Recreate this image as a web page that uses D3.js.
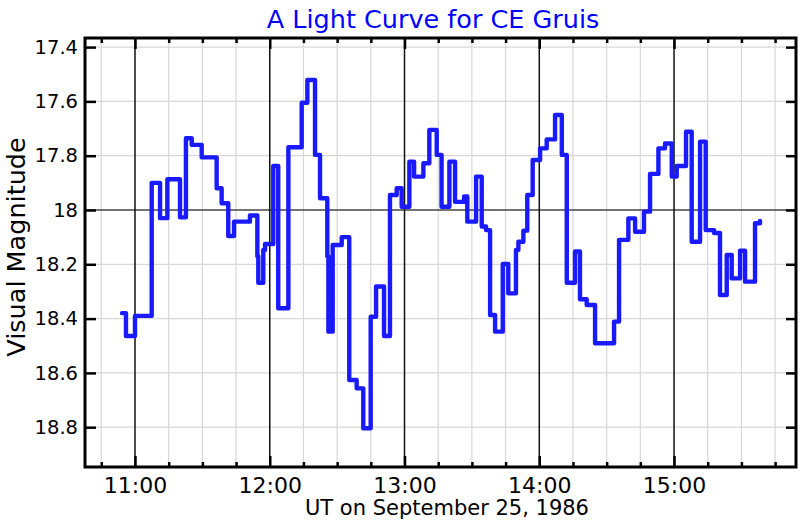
<!DOCTYPE html>
<html><head><meta charset="utf-8">
<script src="https://cdn.jsdelivr.net/npm/d3@7"></script>
<style>body{margin:0;background:#fff}</style>
</head><body>
<svg id="c" width="800" height="520"></svg>
<script>
// UT time in decimal hours (start of each step) and visual magnitude
const times = [10.904,10.933,11.000,11.124,11.186,11.240,11.334,11.378,11.421,11.495,
  11.606,11.643,11.692,11.735,11.853,11.908,11.915,11.952,11.965,12.026,
  12.063,12.138,12.237,12.279,12.336,12.373,12.427,12.435,12.467,12.534,
  12.590,12.645,12.694,12.749,12.789,12.848,12.892,12.942,12.979,13.036,
  13.071,13.140,13.184,13.239,13.275,13.333,13.375,13.442,13.466,13.531,
  13.573,13.605,13.635,13.672,13.729,13.770,13.827,13.845,13.882,13.911,
  13.951,14.006,14.055,14.117,14.167,14.204,14.265,14.302,14.352,14.414,
  14.555,14.592,14.661,14.711,14.777,14.822,14.884,14.933,14.983,15.020,
  15.089,15.131,15.193,15.235,15.297,15.341,15.391,15.428,15.490,15.527,
  15.601,15.638];
const mags = [18.38,18.464,18.39,17.90,18.03,17.887,18.027,17.736,17.76,17.806,
  17.92,17.975,18.096,18.043,18.02,18.17,18.268,18.147,18.125,17.838,
  18.362,17.769,17.605,17.521,17.797,17.957,18.17,18.448,18.129,18.10,
  18.626,18.657,18.804,18.393,18.282,18.464,17.945,17.92,17.988,17.822,
  17.877,17.828,17.705,17.797,17.988,17.822,17.97,17.95,18.043,17.877,
  18.061,18.074,18.387,18.448,18.199,18.307,18.147,18.117,18.076,17.945,
  17.816,17.773,17.74,17.65,17.797,18.268,18.153,18.329,18.35,18.491,
  18.411,18.11,18.031,18.08,18.006,17.867,17.773,17.755,17.877,17.838,
  17.712,18.117,17.748,18.074,18.085,18.313,18.166,18.252,18.15,18.264,
  18.049,18.04];
const hourTicks = [11,12,13,14,15];
const hourLabels = ["11:00","12:00","13:00","14:00","15:00"];
const minorHourTicks = [10.75,11.25,11.5,11.75,12.25,12.5,12.75,13.25,13.5,13.75,14.25,14.5,14.75,15.25,15.5,15.75];
const magTicks = [17.4,17.6,17.8,18,18.2,18.4,18.6,18.8];
const magLabels = ["17.4","17.6","17.8","18","18.2","18.4","18.6","18.8"];

const L=85,R=796,T=38,B=467;
const svg=d3.select("#c");
const x=d3.scaleLinear().domain([10.629,15.905]).range([L,R]);
const y=d3.scaleLinear().domain([17.3665,18.9466]).range([T,B]);
const font="DejaVu Sans";

const g=svg.append("g");
// vertical gridlines (15 min)
g.selectAll(".vg").data(minorHourTicks).join("line")
  .attr("x1",d=>x(d)).attr("x2",d=>x(d)).attr("y1",T).attr("y2",B)
  .attr("stroke","#d8d8d8").attr("stroke-width",1.2);
// horizontal gridlines
g.selectAll(".hg").data(magTicks).join("line")
  .attr("x1",L).attr("x2",R).attr("y1",d=>y(d)).attr("y2",d=>y(d))
  .attr("stroke",d=>d===18?"#444":"#d8d8d8").attr("stroke-width",d=>d===18?1.3:1.2);
// hour lines
g.selectAll(".hl").data(hourTicks).join("line")
  .attr("x1",d=>x(d)).attr("x2",d=>x(d)).attr("y1",T).attr("y2",B)
  .attr("stroke","#111").attr("stroke-width",1.5);

// data line
const data=times.map((t,i)=>({t,m:mags[i]}));
const line=d3.line().x(d=>x(d.t)).y(d=>y(d.m)).curve(d3.curveStepAfter);
svg.append("path").datum(data).attr("d",line)
  .attr("fill","none").attr("stroke","#1a1aff").attr("stroke-width",4.4)
  .attr("stroke-linejoin","round").attr("stroke-linecap","round");

// axes
const axBottom=d3.axisBottom(x).tickValues(hourTicks).tickFormat((d,i)=>hourLabels[i]).tickSizeInner(-11).tickSizeOuter(0).tickPadding(10);
const bax=svg.append("g").attr("transform",`translate(0,${B})`).call(axBottom);
const axBottomMinor=d3.axisBottom(x).tickValues(minorHourTicks).tickFormat("").tickSizeInner(-5).tickSizeOuter(0);
svg.append("g").attr("transform",`translate(0,${B})`).call(axBottomMinor);
const axTop=d3.axisTop(x).tickValues(hourTicks).tickFormat("").tickSizeInner(-11).tickSizeOuter(0);
svg.append("g").attr("transform",`translate(0,${T})`).call(axTop);
const axTopMinor=d3.axisTop(x).tickValues(minorHourTicks).tickFormat("").tickSizeInner(-5).tickSizeOuter(0);
svg.append("g").attr("transform",`translate(0,${T})`).call(axTopMinor);
const axLeft=d3.axisLeft(y).tickValues(magTicks).tickFormat((d,i)=>magLabels[i]).tickSizeInner(-11).tickSizeOuter(0).tickPadding(7);
const lax=svg.append("g").attr("transform",`translate(${L},0)`).call(axLeft);
const axRight=d3.axisRight(y).tickValues(magTicks).tickFormat("").tickSizeInner(-10).tickSizeOuter(0);
svg.append("g").attr("transform",`translate(${R},0)`).call(axRight);
svg.selectAll(".domain").remove();
svg.selectAll(".tick line").attr("stroke","#000").attr("stroke-width",2.5);
bax.selectAll("text").attr("font-family",font).attr("font-size",22).attr("fill","#000");
lax.selectAll("text").attr("font-family",font).attr("font-size",19.5).attr("fill","#000");

// frame
svg.append("rect").attr("x",L).attr("y",T).attr("width",R-L).attr("height",B-T)
  .attr("fill","none").attr("stroke","#000").attr("stroke-width",3);

// titles
svg.append("text").attr("x",433).attr("y",28).attr("text-anchor","middle")
  .attr("font-family",font).attr("font-size",25.5).attr("fill","#0000ff").text("A Light Curve for CE Gruis");
svg.append("text").attr("x",447).attr("y",515).attr("text-anchor","middle")
  .attr("font-family",font).attr("font-size",21).attr("fill","#000").text("UT on September 25, 1986");
svg.append("text").attr("transform","translate(25,247) rotate(-90)").attr("text-anchor","middle")
  .attr("font-family",font).attr("font-size",25.5).attr("fill","#000").text("Visual Magnitude");
</script>
</body></html>
